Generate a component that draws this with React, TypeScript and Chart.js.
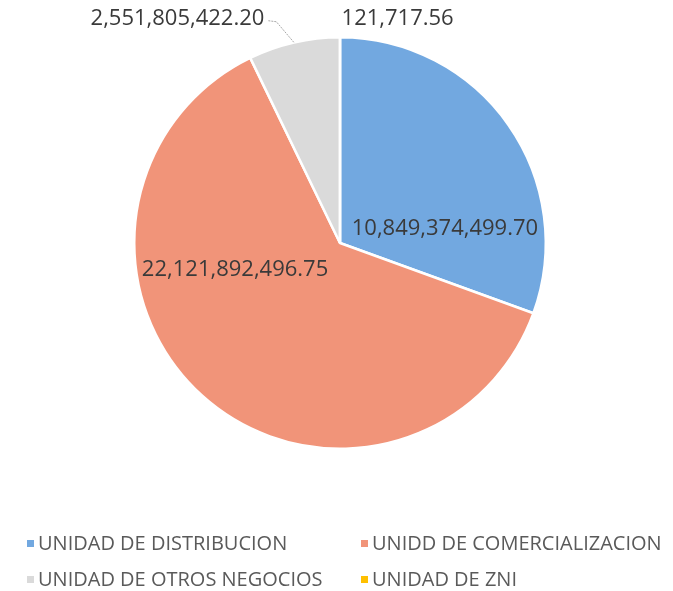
import React, { useEffect, useRef } from "react";
import { Chart, registerables } from "chart.js";

Chart.register(...registerables);

const categories = [
  "UNIDAD DE DISTRIBUCION",
  "UNIDD DE COMERCIALIZACION",
  "UNIDAD DE OTROS NEGOCIOS",
  "UNIDAD DE ZNI",
];
const values = [10849374499.7, 22121892496.75, 2551805422.2, 121717.56];
const valueLabels = [
  "10,849,374,499.70",
  "22,121,892,496.75",
  "2,551,805,422.20",
  "121,717.56",
];
const colors = ["#72a8e0", "#f19479", "#dadada", "#ffc000"];

// label anchor positions expressed as fractions of the pie radius from its centre
const labelAnchors = [
  [0.51, -0.07],
  [-0.51, 0.13],
  [-0.79, -1.09],
  [0.28, -1.09],
];

const FONT = "'Open Sans', sans-serif";

const labelPlugin = {
  id: "valueLabels",
  afterDatasetsDraw(chart: any) {
    const ctx = chart.ctx;
    const meta = chart.getDatasetMeta(0);
    const arc0 = meta.data[0];
    const cx = arc0.x;
    const cy = arc0.y;
    const r = arc0.outerRadius;
    ctx.save();
    ctx.font = `22px ${FONT}`;
    ctx.fillStyle = "#3a3a3a";
    ctx.textAlign = "center";
    ctx.textBaseline = "middle";
    valueLabels.forEach((t, i) => {
      const [fx, fy] = labelAnchors[i];
      ctx.fillText(t, cx + fx * r, cy + fy * r);
    });
    // leader line for the grey slice
    const g = meta.data[2];
    const mid = (g.startAngle + g.endAngle) / 2;
    const ex = cx + Math.cos(mid) * r;
    const ey = cy + Math.sin(mid) * r;
    const w = ctx.measureText(valueLabels[2]).width;
    const lx = cx + labelAnchors[2][0] * r + w / 2 + 4;
    const ly = cy + labelAnchors[2][1] * r + 2;
    ctx.strokeStyle = "#a8a8a8";
    ctx.lineWidth = 1;
    ctx.setLineDash([2, 1]);
    ctx.beginPath();
    ctx.moveTo(lx, ly);
    ctx.lineTo(lx + 8, ly + 1);
    ctx.lineTo(ex, ey);
    ctx.stroke();
    ctx.restore();
  },
};

const legendPlugin = {
  id: "gridLegend",
  afterDraw(chart: any) {
    const ctx = chart.ctx;
    const colX = [27, 361];
    const rowY = [544, 580];
    ctx.save();
    ctx.font = `20px ${FONT}`;
    ctx.textBaseline = "middle";
    ctx.textAlign = "left";
    categories.forEach((c, i) => {
      const x = colX[i % 2];
      const y = rowY[Math.floor(i / 2)];
      ctx.fillStyle = colors[i];
      ctx.fillRect(x, y - 4, 7, 7);
      ctx.fillStyle = "#5a5a5a";
      ctx.fillText(c, x + 11, y);
    });
    ctx.restore();
  },
};

export default function App() {
  const ref = useRef<HTMLCanvasElement>(null);
  useEffect(() => {
    if (!ref.current) return;
    const chart = new Chart(ref.current, {
      type: "pie",
      data: {
        labels: categories,
        datasets: [
          {
            data: values,
            backgroundColor: colors,
            borderColor: "#ffffff",
            borderWidth: 2.5,
          },
        ],
      },
      options: {
        responsive: false,
        animation: false,
        layout: { padding: { top: 36, bottom: 141, left: 7, right: 0 } },
        plugins: {
          legend: { display: false },
          tooltip: { enabled: false },
        },
      },
      plugins: [labelPlugin, legendPlugin],
    });
    return () => chart.destroy();
  }, []);
  return (
    <div style={{ position: "absolute", left: 0, top: 0, width: 673, height: 591, background: "#fff" }}>
      <canvas ref={ref} width={673} height={591} />
    </div>
  );
}
